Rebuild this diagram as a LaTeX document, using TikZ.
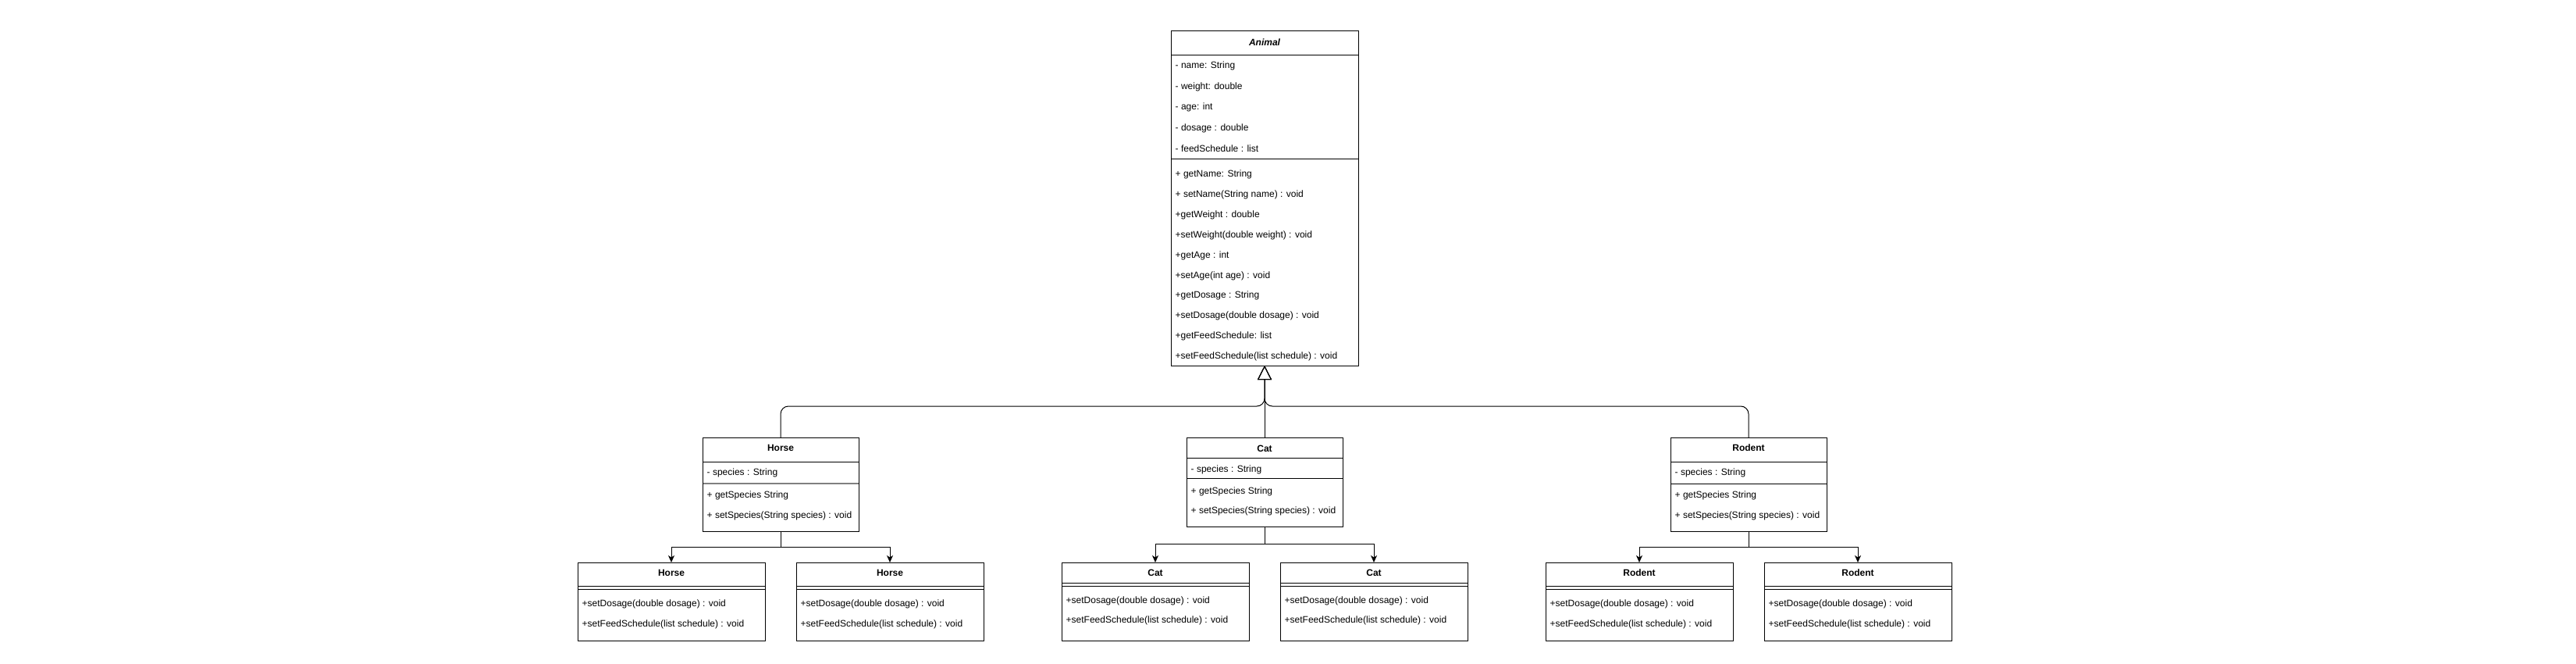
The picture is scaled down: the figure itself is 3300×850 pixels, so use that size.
\documentclass[tikz,border=0pt]{standalone}
\usepackage{fontspec}
\setmainfont{Liberation Sans}
\usetikzlibrary{arrows.meta}
\definecolor{sepgray}{RGB}{128,128,128}
\begin{document}
\begin{tikzpicture}[x=1pt,y=-1pt,
  cls/.style={draw, line width=1pt, anchor=north west, inner sep=0pt, outer sep=0pt, fill=white},
  ttl/.style={font=\fontsize{12}{14}\selectfont\bfseries, anchor=base, inner sep=0pt},
  row/.style={font=\fontsize{12}{14}\selectfont, anchor=base west, inner sep=0pt},
  sepline/.style={line width=1pt},
  gen/.style={-{Triangle[open, length=18pt, width=18pt]}, line width=1pt, rounded corners=10pt},
  dep/.style={-{Stealth[length=9pt, width=8pt, inset=2.5pt]}, line width=1pt}]
\useasboundingbox (0,0) rectangle (3300,850);

% ---------- Animal ----------
\node[cls, minimum width=240pt, minimum height=428pt] (animal) at (1500,40) {};
\draw[sepline] (1500,70.5) -- (1740,70.5);
\draw[sepline] (1500,204) -- (1740,204);
\node[ttl, font=\fontsize{12}{14}\selectfont\bfseries\itshape] (animalT) at (1620,58.3) {Animal};
\node[row] (a1) at (1505.5,87.6) {- name: String};
\node[row] (a2) at (1505.5,114.3) {- weight: double};
\node[row] (a3) at (1505.5,141) {- age: int};
\node[row] (a4) at (1505.5,167.6) {- dosage : double};
\node[row] (a5) at (1505.5,194.3) {- feedSchedule : list};
\node[row] (m1) at (1505.5,226.8) {+ getName: String};
\node[row] (m2) at (1505.5,252.7) {+ setName(String name) : void};
\node[row] (m3) at (1505.5,278.5) {+getWeight : double};
\node[row] (m4) at (1505.5,304.4) {+setWeight(double weight) : void};
\node[row] (m5) at (1505.5,330.2) {+getAge : int};
\node[row] (m6) at (1505.5,356.1) {+setAge(int age) : void};
\node[row] (m7) at (1505.5,381.9) {+getDosage : String};
\node[row] (m8) at (1505.5,407.8) {+setDosage(double dosage) : void};
\node[row] (m9) at (1505.5,433.6) {+getFeedSchedule: list};
\node[row] (m10) at (1505.5,459.5) {+setFeedSchedule(list schedule) : void};

% ---------- Horse (middle) ----------
\node[cls, minimum width=200pt, minimum height=120pt] (horse) at (900,560) {};
\draw[sepline] (900,591.5) -- (1100,591.5);
\draw[line width=1.8pt, sepgray] (900.5,619) -- (1099.5,619);
\node[ttl] (horseT) at (1000,577.6) {Horse};
\node[row] (h1) at (905.5,608.6) {- species : String};
\node[row] (h2) at (905.5,637.6) {+ getSpecies String};
\node[row] (h3) at (905.5,663.3) {+ setSpecies(String species) : void};

% ---------- Cat (middle) ----------
\node[cls, minimum width=200pt, minimum height=114pt] (cat) at (1520,560) {};
\draw[sepline] (1520,586) -- (1720,586);
\draw[sepline] (1520,612.5) -- (1720,612.5);
\node[ttl] (catT) at (1620,578.6) {Cat};
\node[row] (c1) at (1525.5,604.3) {- species : String};
\node[row] (c2) at (1525.5,632.6) {+ getSpecies String};
\node[row] (c3) at (1525.5,657.6) {+ setSpecies(String species) : void};

% ---------- Rodent (middle) ----------
\node[cls, minimum width=200pt, minimum height=120pt] (rodent) at (2140,560) {};
\draw[sepline] (2140,591.5) -- (2340,591.5);
\draw[sepline] (2140,619) -- (2340,619);
\node[ttl] (rodentT) at (2240,577.6) {Rodent};
\node[row] (r1) at (2145.5,608.6) {- species : String};
\node[row] (r2) at (2145.5,637.6) {+ getSpecies String};
\node[row] (r3) at (2145.5,663.3) {+ setSpecies(String species) : void};

% ---------- bottom row ----------
% Horse 1
\node[cls, minimum width=240pt, minimum height=100pt] (hb1) at (740,720) {};
\draw[sepline] (740,750.5) -- (980,750.5);
\draw[sepline] (740,754.5) -- (980,754.5);
\node[ttl] (hb1T) at (860,737.6) {Horse};
\node[row] (hb1a) at (745.5,776.6) {+setDosage(double dosage) : void};
\node[row] (hb1b) at (745.5,802.6) {+setFeedSchedule(list schedule) : void};
% Horse 2
\node[cls, minimum width=240pt, minimum height=100pt] (hb2) at (1020,720) {};
\draw[sepline] (1020,750.5) -- (1260,750.5);
\draw[sepline] (1020,754.5) -- (1260,754.5);
\node[ttl] (hb2T) at (1140,737.6) {Horse};
\node[row] (hb2a) at (1025.5,776.6) {+setDosage(double dosage) : void};
\node[row] (hb2b) at (1025.5,802.6) {+setFeedSchedule(list schedule) : void};
% Cat 1
\node[cls, minimum width=240pt, minimum height=100pt] (cb1) at (1360,720) {};
\draw[sepline] (1360,746.5) -- (1600,746.5);
\draw[sepline] (1360,750.5) -- (1600,750.5);
\node[ttl] (cb1T) at (1480,737.6) {Cat};
\node[row] (cb1a) at (1365.5,772) {+setDosage(double dosage) : void};
\node[row] (cb1b) at (1365.5,797.6) {+setFeedSchedule(list schedule) : void};
% Cat 2
\node[cls, minimum width=240pt, minimum height=100pt] (cb2) at (1640,720) {};
\draw[sepline] (1640,746.5) -- (1880,746.5);
\draw[sepline] (1640,750.5) -- (1880,750.5);
\node[ttl] (cb2T) at (1760,737.6) {Cat};
\node[row] (cb2a) at (1645.5,772) {+setDosage(double dosage) : void};
\node[row] (cb2b) at (1645.5,797.6) {+setFeedSchedule(list schedule) : void};
% Rodent 1
\node[cls, minimum width=240pt, minimum height=100pt] (rb1) at (1980,720) {};
\draw[sepline] (1980,750.5) -- (2220,750.5);
\draw[sepline] (1980,754.5) -- (2220,754.5);
\node[ttl] (rb1T) at (2100,737.6) {Rodent};
\node[row] (rb1a) at (1985.5,776.6) {+setDosage(double dosage) : void};
\node[row] (rb1b) at (1985.5,802.6) {+setFeedSchedule(list schedule) : void};
% Rodent 2
\node[cls, minimum width=240pt, minimum height=100pt] (rb2) at (2260,720) {};
\draw[sepline] (2260,750.5) -- (2500,750.5);
\draw[sepline] (2260,754.5) -- (2500,754.5);
\node[ttl] (rb2T) at (2380,737.6) {Rodent};
\node[row] (rb2a) at (2265.5,776.6) {+setDosage(double dosage) : void};
\node[row] (rb2b) at (2265.5,802.6) {+setFeedSchedule(list schedule) : void};

% ---------- generalization connectors ----------
\coordinate (junction) at (1620,520);
\draw[gen] (horse.north) |- (junction) -- (animal.south);
\draw[gen] (rodent.north) |- (junction) -- (animal.south);
\draw[gen] (cat.north) -- (animal.south);

% ---------- child connectors ----------
\draw[dep] (horse.south) -- ++(0,20) -| (hb1.north);
\draw[dep] (horse.south) -- ++(0,20) -| (hb2.north);
\draw[dep] (cat.south) -- ++(0,22.5) -| (cb1.north);
\draw[dep] (cat.south) -- ++(0,22.5) -| (cb2.north);
\draw[dep] (rodent.south) -- ++(0,20) -| (rb1.north);
\draw[dep] (rodent.south) -- ++(0,20) -| (rb2.north);
\end{tikzpicture}
\end{document}
